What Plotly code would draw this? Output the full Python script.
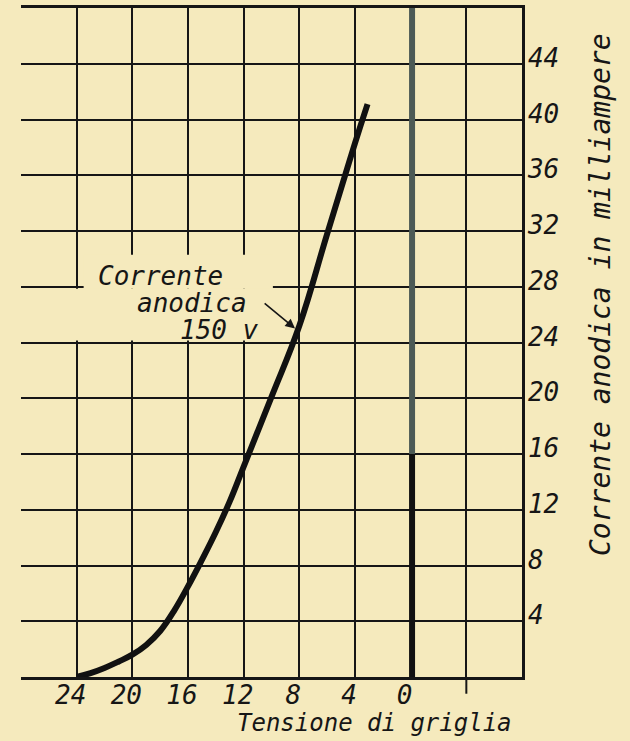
import plotly.graph_objects as go

# ---- data ----
grid_voltage = [24, 23, 22, 21, 20, 19, 18, 17, 16, 15, 14, 13, 12, 10, 8, 6, 4, 3.1]
anode_ma = [0, 0.28, 0.65, 1.1, 1.6, 2.3, 3.3, 4.75, 6.5, 8.4, 10.4, 12.6, 15.1,
            20.1, 25.2, 31.8, 38.3, 41.1]

x_tickvals = [24, 20, 16, 12, 8, 4, 0, -4, -8]
x_ticktext = ["24", "20", "16", "12", "8", "4", "0", "", ""]
y_tickvals = [4, 8, 12, 16, 20, 24, 28, 32, 36, 40, 44, 48]
y_ticktext = ["4", "8", "12", "16", "20", "24", "28", "32", "36", "40", "44", ""]

x_title = "Tensione di griglia"
y_title = "Corrente anodica in milliampere"
curve_label = ["Corrente", "anodica", "150 v"]

BG = "#f5eabd"
INK = "#161616"
FONT = "DejaVu Sans Mono"

fig = go.Figure()
fig.add_trace(go.Scatter(
    x=grid_voltage, y=anode_ma, mode="lines",
    line=dict(color="#111111", width=6, shape="spline", smoothing=1.2),
    hoverinfo="skip", showlegend=False))

tickfont = dict(family=FONT, size=26, color=INK, style="italic")

fig.update_layout(
    width=630, height=741,
    margin=dict(l=21, r=108, t=8, b=64),
    paper_bgcolor=BG, plot_bgcolor=BG,
    showlegend=False,
    xaxis=dict(range=[28, -8], tickvals=x_tickvals, ticktext=x_ticktext,
               showgrid=True, gridcolor=INK, gridwidth=2.2, zeroline=False,
               showline=True, linecolor=INK, linewidth=3, mirror=True,
               ticks="", tickfont=tickfont, ticklabelstandoff=-7,
               ticklabelshift=6, automargin=False),
    yaxis=dict(range=[0, 48], side="right", tickvals=y_tickvals,
               ticktext=y_ticktext, showgrid=True, gridcolor=INK,
               gridwidth=2.2, zeroline=False, showline=True, linecolor=INK,
               linewidth=2.5, ticks="", tickfont=tickfont,
               ticklabelstandoff=-2, ticklabelshift=-6, automargin=False),
)

shapes = [
    # masks where the grid is interrupted by the label
    dict(type="rect", xref="x", yref="y", x0=24.3, x1=9.9, y0=24.15, y1=27.85,
         fillcolor=BG, line=dict(width=0)),
    dict(type="rect", xref="x", yref="y", x0=23.5, x1=9.9, y0=27.85, y1=30.3,
         fillcolor=BG, line=dict(width=0)),
    # thick zero line (grey upper part, black lower part)
    dict(type="line", xref="x", yref="y", x0=-0.1, x1=-0.1, y0=16, y1=48,
         line=dict(color="#4c5a55", width=6)),
    dict(type="line", xref="x", yref="y", x0=-0.1, x1=-0.1, y0=0, y1=16,
         line=dict(color="#111111", width=6)),
    # small tick below the axis
    dict(type="line", xref="x", yref="paper", x0=-4, x1=-4, y0=0, y1=-0.025,
         line=dict(color=INK, width=2)),
]
fig.update_layout(shapes=shapes)

lab_font = dict(family=FONT, size=26, color=INK, style="italic")
annotations = [
    dict(x=17.95, y=28.8, xref="x", yref="y", text=curve_label[0],
         showarrow=False, font=lab_font),
    dict(x=15.68, y=26.8, xref="x", yref="y", text=curve_label[1],
         showarrow=False, font=lab_font),
    dict(x=13.74, y=24.9, xref="x", yref="y", text=curve_label[2],
         showarrow=False, font=lab_font),
    dict(x=8.31, y=25.0, ax=10.6, ay=26.9, xref="x", yref="y",
         axref="x", ayref="y", text="", showarrow=True, arrowhead=2,
         arrowsize=1.2, arrowwidth=1.6, arrowcolor=INK, standoff=0),
    dict(x=0.7056, y=-0.0688, xref="paper", yref="paper", text=x_title,
         showarrow=False, font=dict(family=FONT, size=24, color=INK,
                                    style="italic"),
         xanchor="center", yanchor="middle"),
    dict(x=1.1557, y=0.571, xref="paper", yref="paper", text=y_title,
         showarrow=False, textangle=-90,
         font=dict(family=FONT, size=28, color=INK, style="italic"),
         xanchor="center", yanchor="middle"),
]
fig.update_layout(annotations=annotations)

fig.write_html(
    "out.html",
    config={"displayModeBar": False},
    post_script="document.body.style.margin='0px';"
                "document.body.style.background='%s';" % BG)
